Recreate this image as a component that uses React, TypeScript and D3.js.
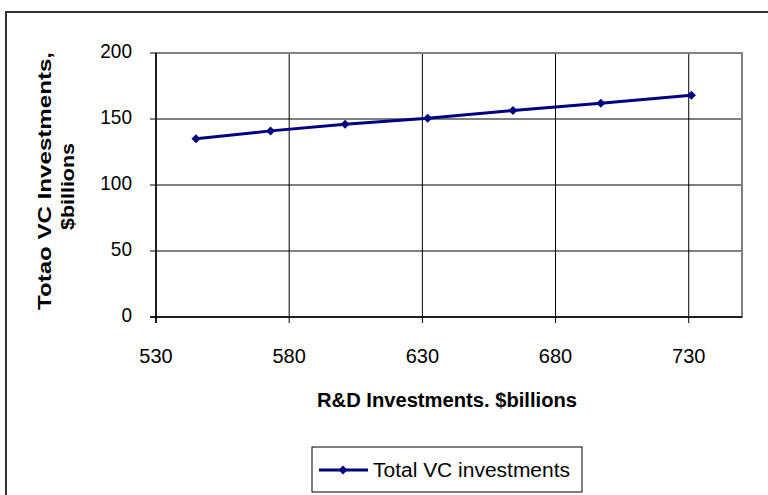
import React from "react";
import * as d3 from "d3";

const rdInvestments = [545, 573, 601, 632, 664, 697, 731];
const vcInvestments = [135, 141, 146, 150.5, 156.5, 162, 168];
const xTicks = [530, 580, 630, 680, 730];
const yTicks = [0, 50, 100, 150, 200];
const seriesName = "Total VC investments";
const xTitle = "R&D Investments. $billions";
const yTitleLines = ["Totao VC Investments,", "$billions"];

export default function App() {
  const W = 768, H = 495;
  const left = 156, right = 742, top = 53, bottom = 317;
  const x = d3.scaleLinear().domain([530, 750]).range([left, right]);
  const y = d3.scaleLinear().domain([0, 200]).range([bottom, top]);
  const pts = rdInvestments.map((v, i) => [x(v), y(vcInvestments[i])] as [number, number]);
  const line = d3.line()(pts) || "";
  const font = "'Liberation Sans', Arial, sans-serif";
  const diamond = (cx: number, cy: number, r = 4.5) =>
    `M${cx},${cy - r}L${cx + r},${cy}L${cx},${cy + r}L${cx - r},${cy}Z`;
  return (
    <svg width={W} height={H} style={{ position: "absolute", left: 0, top: 0, background: "#fff" }}>
      <rect x={0} y={0} width={W} height={H} fill="#fff" />
      <rect x={6} y={12} width={W + 20} height={H + 20} fill="none" stroke="#333" strokeWidth={2} />
      {/* gridlines */}
      {yTicks.map((t) => (
        <line key={"gy" + t} x1={left} x2={right} y1={y(t)} y2={y(t)} stroke="#000" strokeWidth={1} />
      ))}
      {xTicks.map((t) => (
        <line key={"gx" + t} x1={x(t)} x2={x(t)} y1={top} y2={bottom} stroke="#000" strokeWidth={1} />
      ))}
      <rect x={left} y={top} width={right - left} height={bottom - top} fill="none" stroke="#808080" strokeWidth={2} />
      {/* axes */}
      <line x1={left} x2={left} y1={top} y2={bottom + 6} stroke="#000" strokeWidth={1.5} />
      <line x1={left - 6} x2={right} y1={bottom} y2={bottom} stroke="#000" strokeWidth={1.5} />
      {yTicks.map((t) => (
        <g key={"ty" + t}>
          <line x1={left - 6} x2={left} y1={y(t)} y2={y(t)} stroke="#000" strokeWidth={1} />
          <text x={132} y={y(t) + 5} textAnchor="end" fontFamily={font} fontSize={20} fill="#000"
            transform={`translate(${132},0) scale(0.95,1) translate(${-132},0)`}>{t}</text>
        </g>
      ))}
      {xTicks.map((t) => (
        <g key={"tx" + t}>
          <line x1={x(t)} x2={x(t)} y1={bottom} y2={bottom + 6} stroke="#000" strokeWidth={1} />
          <text x={x(t)} y={bottom + 46} textAnchor="middle" fontFamily={font} fontSize={20} fill="#000">{t}</text>
        </g>
      ))}
      {/* series */}
      <path d={line} fill="none" stroke="#000080" strokeWidth={3} />
      {pts.map(([cx, cy], i) => (
        <path key={"m" + i} d={diamond(cx, cy)} fill="#000080" />
      ))}
      {/* titles */}
      <text x={447} y={407} textAnchor="middle" fontFamily={font} fontSize={20} fontWeight="bold" fill="#000"
        textLength={260} lengthAdjust="spacingAndGlyphs">{xTitle}</text>
      <g transform="translate(0,181) rotate(-90)">
        <text x={0} y={51} textAnchor="middle" fontFamily={font} fontSize={19} fontWeight="bold" fill="#000"
          textLength={258} lengthAdjust="spacingAndGlyphs">{yTitleLines[0]}</text>
      </g>
      <g transform="translate(0,186.5) rotate(-90)">
        <text x={0} y={74} textAnchor="middle" fontFamily={font} fontSize={19} fontWeight="bold" fill="#000"
          textLength={87} lengthAdjust="spacingAndGlyphs">{yTitleLines[1]}</text>
      </g>
      {/* legend */}
      <rect x={312} y={447} width={270} height={45} fill="#fff" stroke="#000" strokeWidth={1} />
      <line x1={319} x2={368} y1={470} y2={470} stroke="#000080" strokeWidth={3} />
      <path d={diamond(343, 470)} fill="#000080" />
      <text x={373} y={477} fontFamily={font} fontSize={20} fill="#000"
        textLength={197} lengthAdjust="spacingAndGlyphs">{seriesName}</text>
    </svg>
  );
}
